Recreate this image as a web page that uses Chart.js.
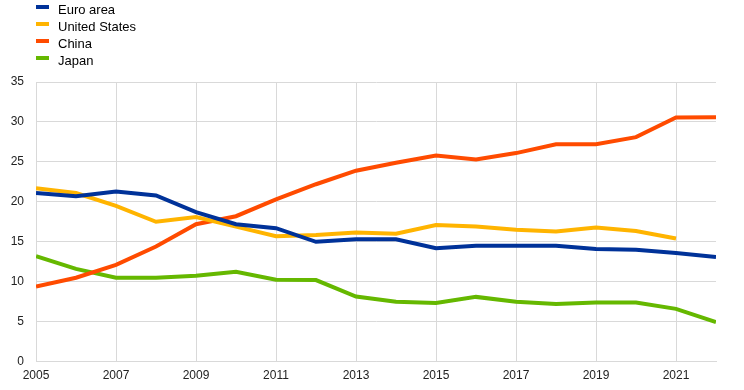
<!DOCTYPE html>
<html>
<head>
<meta charset="utf-8">
<script src="https://cdn.jsdelivr.net/npm/chart.js@4"></script>
<style>
  html, body { margin: 0; padding: 0; background: #fff; }
  #wrap { position: relative; width: 744px; height: 390px; }
  #legend { position: absolute; left: 36px; top: 2px; font: 13px "Liberation Sans", Arial, sans-serif; color: #000; }
  #legend div { height: 17px; line-height: 16px; white-space: nowrap; }
  #legend span.key { display: inline-block; width: 13px; height: 4px; margin-right: 9px; vertical-align: 5px; }
</style>
</head>
<body>
<div id="wrap">
  <canvas id="chart" width="744" height="390"></canvas>
  <div id="legend"></div>
</div>
<script>
const years = [2005, 2006, 2007, 2008, 2009, 2010, 2011, 2012, 2013, 2014, 2015, 2016, 2017, 2018, 2019, 2020, 2021, 2022];
const euroArea = [21.1, 20.7, 21.3, 20.8, 18.7, 17.2, 16.7, 15.0, 15.3, 15.3, 14.2, 14.5, 14.5, 14.5, 14.1, 14.0, 13.6, 13.1];
const unitedStates = [21.7, 21.1, 19.5, 17.5, 18.1, 16.9, 15.7, 15.85, 16.15, 16.0, 17.1, 16.9, 16.5, 16.3, 16.8, 16.35, 15.4, null];
const china = [9.4, 10.5, 12.1, 14.4, 17.2, 18.2, 20.3, 22.2, 23.9, 24.9, 25.8, 25.3, 26.1, 27.2, 27.2, 28.1, 30.55, 30.6];
const japan = [13.2, 11.6, 10.5, 10.5, 10.75, 11.25, 10.25, 10.2, 8.15, 7.5, 7.35, 8.1, 7.5, 7.2, 7.4, 7.4, 6.6, 4.95];
const xTicks = [2005, 2007, 2009, 2011, 2013, 2015, 2017, 2019, 2021];
const yTicks = [0, 5, 10, 15, 20, 25, 30, 35];

const series = [
  { label: 'Euro area', values: euroArea, color: '#003299' },
  { label: 'United States', values: unitedStates, color: '#ffb400' },
  { label: 'China', values: china, color: '#ff4b00' },
  { label: 'Japan', values: japan, color: '#65b800' }
];

const legend = document.getElementById('legend');
series.forEach(s => {
  const row = document.createElement('div');
  row.innerHTML = '<span class="key" style="background:' + s.color + '"></span>' + s.label;
  legend.appendChild(row);
});

const font = { family: '"Liberation Sans", Arial, sans-serif', size: 12 };

new Chart(document.getElementById('chart'), {
  type: 'line',
  data: {
    datasets: series.map(s => ({
      label: s.label,
      data: years.map((yr, i) => ({ x: yr, y: s.values[i] })),
      borderColor: s.color,
      backgroundColor: s.color,
      borderWidth: 4,
      pointRadius: 0,
      tension: 0,
      fill: false
    }))
  },
  options: {
    responsive: false,
    animation: false,
    layout: { padding: { top: 82, right: 28, left: 0, bottom: 0 } },
    plugins: { legend: { display: false }, tooltip: { enabled: false } },
    scales: {
      x: {
        type: 'linear',
        min: 2005,
        max: 2022,
        afterBuildTicks: scale => { scale.ticks = xTicks.map(v => ({ value: v })); },
        grid: { color: '#d9d9d9', drawTicks: false },
        border: { color: '#d9d9d9' },
        ticks: { font: font, color: '#222', padding: 7, maxRotation: 0, callback: v => String(v) }
      },
      y: {
        min: 0,
        max: 35,
        afterBuildTicks: scale => { scale.ticks = yTicks.map(v => ({ value: v })); },
        afterFit: scale => { scale.width = 36; },
        grid: { color: '#d9d9d9', drawTicks: false },
        border: { color: '#d9d9d9' },
        ticks: { font: font, color: '#222', padding: 12 }
      }
    }
  }
});
</script>
</body>
</html>
